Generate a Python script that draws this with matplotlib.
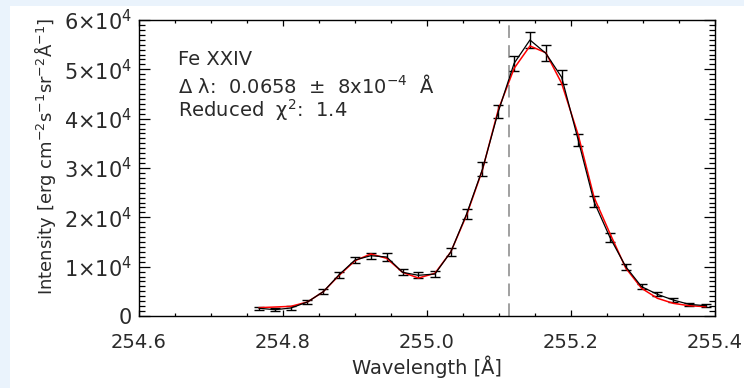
import matplotlib
matplotlib.use("Agg")
import matplotlib.pyplot as plt
from matplotlib.patches import Rectangle
from matplotlib.ticker import MultipleLocator

# spectral pixels (Angstrom)
wavelength = [254.767, 254.789, 254.811, 254.834, 254.856, 254.878, 254.900,
              254.922, 254.944, 254.966, 254.988, 255.011, 255.033, 255.055,
              255.077, 255.099, 255.121, 255.143, 255.165, 255.187, 255.210,
              255.232, 255.254, 255.276, 255.298, 255.320, 255.342, 255.364,
              255.387]
intensity = [1560, 1280, 1620, 2840, 4930, 8380, 11350, 12220, 11960, 8860,
             8250, 8510, 12970, 20680, 29740, 41410, 51220, 55950, 53250,
             48390, 35680, 23170, 15950, 10000, 5950, 4390, 3240, 2370, 2090]
error = [350, 350, 350, 400, 450, 600, 600, 650, 750, 650, 600, 650, 850,
         1000, 1400, 1300, 1500, 1600, 1600, 1400, 1200, 1070, 900, 600, 500,
         400, 400, 350, 350]
fit = [1690, 1820, 1960, 2840, 4930, 8250, 11210, 12570, 11690, 8860, 7700,
       8650, 12970, 20470, 29600, 41800, 50200, 54730, 53370, 47170, 36700,
       24060, 16760, 9730, 5620, 3590, 2570, 2090, 1890]
line_center = 255.114

xticks = [254.6, 254.8, 255.0, 255.2, 255.4]
xticklabels = ["254.6", "254.8", "255.0", "255.2", "255.4"]
yticks = [0, 10000, 20000, 30000, 40000, 50000, 60000]
yticklabels = ["0", "1×10$^4$", "2×10$^4$", "3×10$^4$", "4×10$^4$",
               "5×10$^4$", "6×10$^4$"]

plt.rcParams['font.family'] = ['DejaVu Sans']
txt = '#2a2a2a'

fig = plt.figure(figsize=(7.44, 3.88), dpi=100)
fig.patch.set_facecolor('#eaf3fc')
fig.add_artist(Rectangle((10 / 744, 0), 1, 382 / 388, transform=fig.transFigure,
                         facecolor='white', edgecolor='none', zorder=-1))

ax = fig.add_axes([139 / 744, 72 / 388, 576 / 744, 296 / 388])
ax.axvline(line_center, color='#999999', lw=1.3, dashes=(7, 4))
ax.errorbar(wavelength, intensity, yerr=error, color='black', lw=0.9,
            elinewidth=1.0, capsize=3.5, capthick=1.0)
ax.plot(wavelength, fit, color='red', lw=1.1)

ax.set_xlim(254.6, 255.4)
ax.set_ylim(0, 60000)
ax.set_xticks(xticks)
ax.set_xticklabels(xticklabels)
ax.set_yticks(yticks)
ax.set_yticklabels(yticklabels)
ax.xaxis.set_minor_locator(MultipleLocator(0.05))
ax.yaxis.set_minor_locator(MultipleLocator(1000))

ax.tick_params(which='both', direction='in', top=True, right=True,
               colors='black', labelcolor=txt, width=0.9)
ax.tick_params(axis='x', which='major', length=4.5, pad=12, labelsize=14)
ax.tick_params(axis='x', which='minor', length=2.3)
ax.tick_params(axis='y', which='major', length=8, pad=5, labelsize=15)
ax.tick_params(axis='y', which='minor', length=4)
for s in ax.spines.values():
    s.set_linewidth(1.0)

ax.set_xlabel("Wavelength [Å]", fontsize=14, color=txt, labelpad=3)
ax.set_ylabel("Intensity [erg cm$^{-2}$s$^{-1}$sr$^{-2}$Å$^{-1}$]",
              fontsize=13, color=txt)
ax.yaxis.set_label_coords(-0.14, 0.54)

ax.text(0.067, 0.848, "Fe XXIV", transform=ax.transAxes, fontsize=14, color=txt)
ax.text(0.067, 0.755, "Δ λ:  0.0658  ±  8x10$^{-4}$  Å", transform=ax.transAxes,
        fontsize=14, color=txt)
ax.text(0.067, 0.672, "Reduced  χ$^2$:  1.4", transform=ax.transAxes,
        fontsize=14, color=txt)

fig.savefig("out.png", dpi=100, facecolor=fig.get_facecolor())
